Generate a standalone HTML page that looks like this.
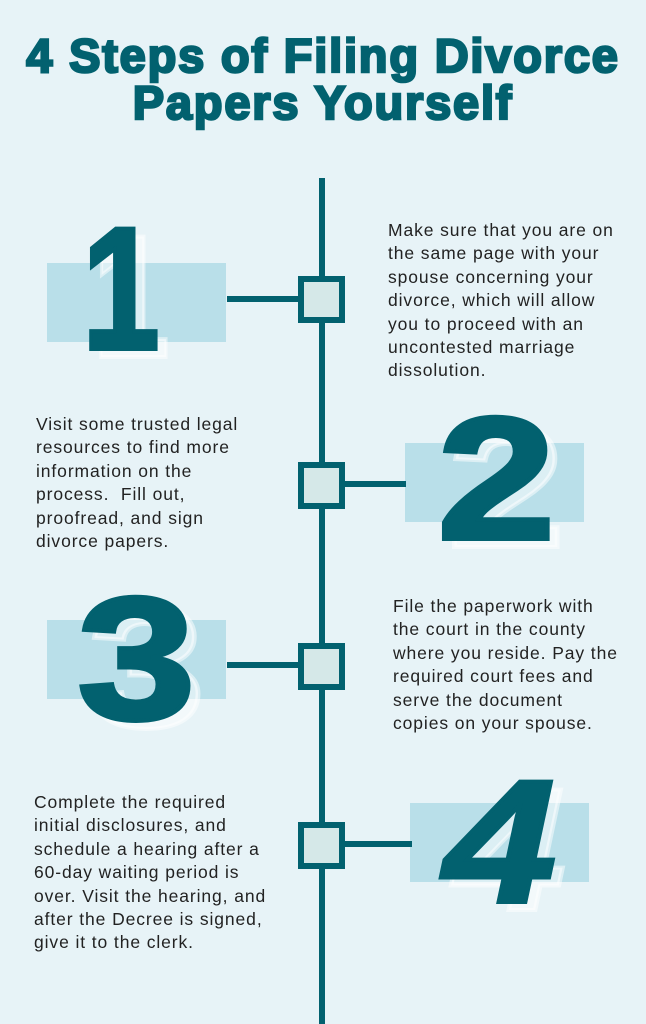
<!DOCTYPE html>
<html><head><style>
body{margin:0;width:646px;height:1024px;background:#e7f3f7;position:relative;overflow:hidden;font-family:"Liberation Sans",sans-serif}
.t{position:absolute;left:0;width:646px;text-align:center;color:#02616f;font-weight:900;font-size:47px;letter-spacing:1.8px;-webkit-text-stroke:2.5px #02616f;white-space:nowrap}
.vl{position:absolute;left:319px;top:178px;width:6px;height:846px;background:#02616f}
.sq{position:absolute;left:298px;width:35px;height:35px;border:6px solid #02616f;background:#d5e8e8}
.hl{position:absolute;height:6px;background:#02616f}
.rc{position:absolute;background:#b9dfe9;width:179px;height:79px}
.n{position:absolute;font-weight:900;font-size:175px;line-height:1;color:#02616f;-webkit-text-stroke:4px #02616f;transform-origin:0 0}
.s{position:absolute;font-weight:900;font-size:175px;line-height:1;color:rgba(255,255,255,0.5);-webkit-text-stroke:4px rgba(255,255,255,0.5);transform-origin:0 0}
.p{position:absolute;font-size:17.5px;line-height:23.4px;color:#222;letter-spacing:0.9px;white-space:nowrap}
</style></head><body>
<div class="t" style="top:28px">4 Steps of Filing Divorce</div>
<div class="t" style="top:75px">Papers Yourself</div>
<div class="vl"></div>

<div class="rc" style="left:47px;top:263px"></div>
<div class="hl" style="left:227px;top:296px;width:72px"></div>
<div class="sq" style="top:276px"></div>
<div class="s" style="left:92px;top:210px;transform:scaleX(0.8)">1</div>
<div class="n" style="left:82px;top:202px;transform:scaleX(0.8)">1</div>
<div class="p" style="left:388px;top:219px">Make sure that you are on<br>the same page with your<br>spouse concerning your<br>divorce, which will allow<br>you to proceed with an<br>uncontested marriage<br>dissolution.</div>

<div class="rc" style="left:405px;top:443px"></div>
<div class="hl" style="left:344px;top:481px;width:62px"></div>
<div class="sq" style="top:462px"></div>
<div class="s" style="left:447px;top:400px;transform:scaleX(1.22)">2</div>
<div class="n" style="left:437px;top:392px;transform:scaleX(1.22)">2</div>
<div class="p" style="left:36px;top:413px">Visit some trusted legal<br>resources to find more<br>information on the<br>process.&nbsp; Fill out,<br>proofread, and sign<br>divorce papers.</div>

<div class="rc" style="left:47px;top:620px"></div>
<div class="hl" style="left:227px;top:662px;width:72px"></div>
<div class="sq" style="top:643px"></div>
<div class="s" style="left:87px;top:580px;transform:scaleX(1.22)">3</div>
<div class="n" style="left:77px;top:572px;transform:scaleX(1.22)">3</div>
<div class="p" style="left:393px;top:595px">File the paperwork with<br>the court in the county<br>where you reside. Pay the<br>required court fees and<br>serve the document<br>copies on your spouse.</div>

<div class="rc" style="left:410px;top:803px"></div>
<div class="hl" style="left:344px;top:841px;width:68px"></div>
<div class="sq" style="top:822px"></div>
<div class="s" style="left:474px;top:763px;transform:skewX(-12deg) scaleX(1.15)">4</div>
<div class="n" style="left:464px;top:755px;transform:skewX(-12deg) scaleX(1.15)">4</div>
<div class="p" style="left:34px;top:791px">Complete the required<br>initial disclosures, and<br>schedule a hearing after a<br>60-day waiting period is<br>over. Visit the hearing, and<br>after the Decree is signed,<br>give it to the clerk.</div>
</body></html>
